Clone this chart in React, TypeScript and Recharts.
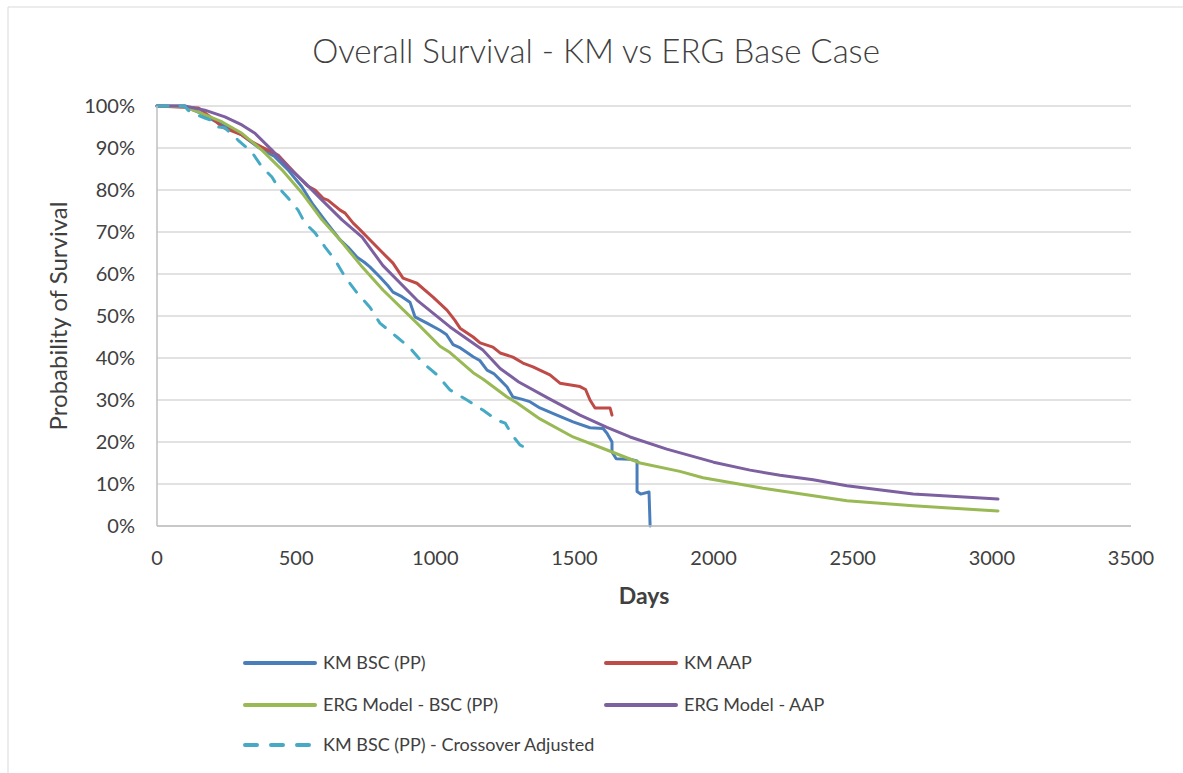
import React from 'react'
import { LineChart, Line, XAxis, YAxis, CartesianGrid } from 'recharts'

// days, survival %
const kmBsc = [
  [0, 100], [100, 100], [120, 99.3], [150, 98.5], [175, 97.6], [234, 95.5], [305, 93.1], [363, 90.2],
  [424, 87.9], [471, 84.8], [521, 80.7], [561, 76.5], [611, 72.1], [658, 68.1], [686, 66.4], [719, 64],
  [745, 62.8], [765, 61.7], [801, 59.3], [830, 57.2], [848, 55.7], [880, 54.6], [909, 53.3], [927, 49.8],
  [970, 48.3], [1017, 46.6], [1040, 45.6], [1064, 43.2], [1090, 42.4], [1114, 41.3], [1136, 40.3],
  [1160, 39.4], [1186, 37.1], [1210, 36.3], [1233, 34.8], [1258, 33.1], [1279, 30.7], [1310, 30.2],
  [1340, 29.6], [1376, 28.1], [1437, 26.4], [1495, 24.8], [1556, 23.4], [1603, 23.2], [1617, 22.1],
  [1635, 20], [1635, 17.6], [1650, 16], [1700, 15.9], [1725, 15.5], [1725, 8.2], [1738, 7.6],
  [1768, 8.1], [1772, 0],
]

const kmAap = [
  [0, 100], [150, 99.5], [200, 97], [234, 95], [305, 93.1], [340, 91.5], [377, 90.2], [435, 88.3],
  [496, 84], [540, 81], [568, 80], [597, 78], [614, 77.6], [658, 75.2], [676, 74.5], [705, 72.1],
  [730, 70.5], [755, 68.8], [801, 65.7], [848, 62.6], [884, 59], [934, 57.8], [992, 54.5], [1042, 51.4],
  [1070, 49], [1089, 47.1], [1136, 45], [1161, 43.6], [1207, 42.6], [1233, 41.2], [1279, 40.2],
  [1315, 38.8], [1351, 37.9], [1412, 36], [1448, 34], [1520, 33.2], [1540, 32.5], [1556, 30],
  [1574, 28.1], [1628, 28.1], [1635, 26.4],
]

const ergBsc = [
  [0, 100], [100, 99.8], [147, 98.6], [234, 96.2], [305, 93.5], [377, 89.5], [449, 84.8], [521, 79.3],
  [593, 72.9], [658, 68.1], [737, 61.7], [812, 56.2], [934, 48.3], [1017, 42.8], [1053, 41.3],
  [1136, 36.5], [1171, 35], [1258, 30.7], [1294, 29.3], [1376, 25.5], [1495, 21.2], [1617, 18.1],
  [1736, 15], [1879, 13], [1962, 11.5], [2178, 9], [2479, 6], [2717, 4.8], [3022, 3.6],
]

const ergAap = [
  [0, 100], [100, 100], [172, 99], [244, 97.4], [305, 95.5], [352, 93.5], [413, 89.5], [471, 85.5],
  [532, 81.7], [593, 77.6], [665, 72.9], [737, 68.8], [812, 62], [934, 53.8], [1053, 47.4], [1171, 41.9],
  [1233, 37.5], [1300, 34.3], [1412, 30.2], [1520, 26.4], [1617, 23.5], [1700, 21.2], [1832, 18.3],
  [2000, 15.2], [2131, 13.3], [2239, 12.1], [2358, 11], [2479, 9.6], [2717, 7.6], [3022, 6.4],
]

const kmBscCross = [
  [0, 100], [100, 100], [111, 99], [140, 98], [172, 97.1], [200, 96.5], [219, 95], [244, 94.8],
  [291, 91.9], [341, 89], [377, 85.5], [413, 83.1], [435, 80.7], [471, 78.1], [507, 75.2], [532, 72.1],
  [568, 69.8], [604, 66.4], [640, 63.3], [676, 59.3], [719, 55.5], [765, 52.1], [801, 48.3], [862, 45],
  [909, 42.4], [956, 38.8], [1006, 36], [1053, 32.4], [1114, 30], [1171, 27.6], [1222, 25.2],
  [1251, 24.5], [1276, 21.7], [1304, 19.3], [1340, 18.1],
]

const xTicks = [0, 500, 1000, 1500, 2000, 2500, 3000, 3500]
const yTicks = [0, 10, 20, 30, 40, 50, 60, 70, 80, 90, 100]

const series = [
  { name: 'KM BSC (PP)', data: kmBsc, color: '#4a7ebb', dash: undefined },
  { name: 'KM AAP', data: kmAap, color: '#be4b48', dash: undefined },
  { name: 'ERG Model - BSC (PP)', data: ergBsc, color: '#98b954', dash: undefined },
  { name: 'ERG Model - AAP', data: ergAap, color: '#7d60a0', dash: undefined },
  { name: 'KM BSC (PP) - Crossover Adjusted', data: kmBscCross, color: '#46aac5', dash: '11 12' },
]

const toRows = (pts: number[][]) => pts.map(([d, s]) => ({ d, s }))

const font = 'Lato, "Open Sans", sans-serif'
const textColor = '#404040'

// legend slots: [swatch x, row y]
const legendPos = [
  [245, 663], [606, 663], [245, 705], [606, 705], [245, 745],
]

export default function App() {
  return (
    <div style={{ position: 'absolute', left: 0, top: 0, width: 1183, height: 773, background: '#fff' }}>
      <LineChart width={1183} height={773} margin={{ top: 106, right: 52, left: 97, bottom: 187 }}>
        <CartesianGrid vertical={false} stroke="#d9d9d9" strokeWidth={1.5} />
        <XAxis
          type="number"
          dataKey="d"
          domain={[0, 3500]}
          ticks={xTicks}
          height={60}
          tickSize={0}
          tickMargin={25}
          stroke="#bfbfbf"
          strokeWidth={1.5}
          tick={{ fontSize: 20, fill: textColor, fontFamily: font }}
        />
        <YAxis
          type="number"
          domain={[0, 100]}
          ticks={yTicks}
          width={60}
          tickSize={0}
          tickMargin={22}
          stroke="#bfbfbf"
          strokeWidth={1.5}
          tickFormatter={v => `${v}%`}
          tick={{ fontSize: 20, fill: textColor, fontFamily: font }}
        />
        {series.map(s => (
          <Line
            key={s.name}
            data={toRows(s.data)}
            dataKey="s"
            type="linear"
            stroke={s.color}
            strokeWidth={3}
            strokeDasharray={s.dash}
            strokeLinecap="round"
            strokeLinejoin="round"
            dot={false}
            activeDot={false}
            isAnimationActive={false}
          />
        ))}
      </LineChart>
      <svg width={1183} height={773} style={{ position: 'absolute', left: 0, top: 0, pointerEvents: 'none' }}>
        <line x1={8} y1={7} x2={1183} y2={7} stroke="#d9d9d9" />
        <line x1={8} y1={7} x2={8} y2={773} stroke="#d9d9d9" />
        <text x={596} y={63} textAnchor="middle" fontSize={33} fontWeight={300} fill={textColor} fontFamily={font}>
          Overall Survival - KM vs ERG Base Case
        </text>
        <text x={644} y={604} textAnchor="middle" fontSize={23} fontWeight="bold" fill={textColor} fontFamily={font}>
          Days
        </text>
        <text
          x={67}
          y={316}
          textAnchor="middle"
          fontSize={24}
          fill={textColor}
          fontFamily={font}
          transform="rotate(-90, 67, 316)"
        >
          Probability of Survival
        </text>
        {series.map((s, i) => {
          const [lx, ly] = legendPos[i]
          return (
            <g key={s.name}>
              <line
                x1={lx}
                y1={ly}
                x2={lx + 70}
                y2={ly}
                stroke={s.color}
                strokeWidth={4}
                strokeLinecap="round"
                strokeDasharray={s.dash ? '12 14' : undefined}
              />
              <text x={lx + 78} y={ly + 6} fontSize={18} fill={textColor} fontFamily={font}>
                {s.name}
              </text>
            </g>
          )
        })}
      </svg>
    </div>
  )
}
